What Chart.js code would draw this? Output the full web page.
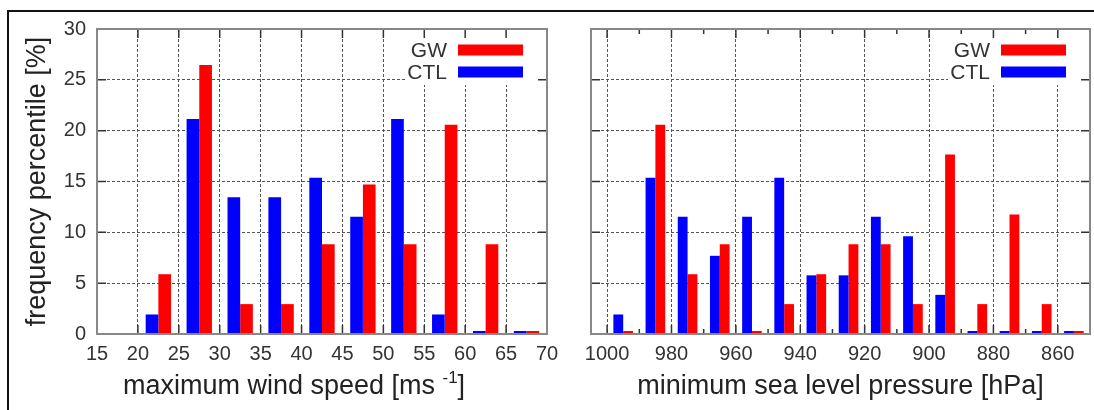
<!DOCTYPE html>
<html>
<head>
<meta charset="utf-8">
<script src="https://cdn.jsdelivr.net/npm/chart.js@4/dist/chart.umd.min.js"></script>
<style>
  html, body { margin: 0; padding: 0; background: #fff; }
  #wrap { position: relative; width: 1094px; height: 410px; overflow: hidden; }
  canvas { position: absolute; top: 0; }
  #left { left: 0; }
  #right { left: 560px; }
  #frame { position: absolute; left: 7px; top: 10px; width: 1200px; height: 600px;
           border-left: 2px solid #111; border-top: 2px solid #111; pointer-events: none; }
</style>
</head>
<body>
<div id="wrap">
  <canvas id="left" width="560" height="410"></canvas>
  <canvas id="right" width="534" height="410"></canvas>
  <div id="frame"></div>
</div>
<script>
// maximum wind speed: bin centres [m/s] and frequency [%]
const windBins = [22.5, 27.5, 32.5, 37.5, 42.5, 47.5, 52.5, 57.5, 62.5, 67.5];
const windCTL = [1.92, 21.15, 13.46, 13.46, 15.38, 11.54, 21.15, 1.92, 0, 0];
const windGW = [5.88, 26.47, 2.94, 2.94, 8.82, 14.71, 8.82, 20.59, 8.82, 0];

// minimum sea level pressure: bin centres [hPa] and frequency [%]
const pressBins = [995, 985, 975, 965, 955, 945, 935, 925, 915, 905, 895, 885, 875, 865, 855];
const pressCTL = [1.92, 15.38, 11.54, 7.69, 11.54, 15.38, 5.77, 5.77, 11.54, 9.62, 3.85, 0, 0, 0, 0];
const pressGW = [0, 20.59, 5.88, 8.82, 0, 2.94, 5.88, 8.82, 8.82, 2.94, 17.65, 2.94, 11.76, 2.94, 0];

const pressTicks = [1000, 980, 960, 940, 920, 900, 880, 860];
const pressMinorTicks = [990, 970, 950, 930, 910, 890, 870];

const FONT = '"Liberation Sans", Arial, sans-serif';
Chart.defaults.font.family = FONT;

// gnuplot look: inward tick marks, grey border, key box, x label with superscript
const gnuplotFrame = {
    id: 'gnuplotFrame',
    beforeDatasetsDraw(chart) {
        const a = chart.chartArea;
        const ctx = chart.ctx;
        ctx.save();
        ctx.fillStyle = '#fff';
        ctx.fillRect(a.right - 142, a.top, 142, 56);
        ctx.restore();
    },
    afterDatasetsDraw(chart, args, opts) {
        const a = chart.chartArea;
        const ctx = chart.ctx;
        const xs = chart.scales.x;
        const ys = chart.scales.y;
        ctx.save();
        ctx.strokeStyle = '#333';
        ctx.lineWidth = 1.5;
        ctx.beginPath();
        xs.ticks.forEach(t => {
            const px = xs.getPixelForValue(t.value);
            ctx.moveTo(px, a.bottom); ctx.lineTo(px, a.bottom - 9);
            ctx.moveTo(px, a.top); ctx.lineTo(px, a.top + 9);
        });
        (opts.minor || []).forEach(v => {
            const px = xs.getPixelForValue(v);
            ctx.moveTo(px, a.bottom); ctx.lineTo(px, a.bottom - 5);
            ctx.moveTo(px, a.top); ctx.lineTo(px, a.top + 5);
        });
        ys.ticks.forEach(t => {
            const py = ys.getPixelForValue(t.value);
            ctx.moveTo(a.left, py); ctx.lineTo(a.left + 9, py);
            ctx.moveTo(a.right, py); ctx.lineTo(a.right - 9, py);
        });
        ctx.stroke();

        ctx.strokeStyle = '#888';
        ctx.lineWidth = 2;
        ctx.strokeRect(a.left, a.top, a.right - a.left, a.bottom - a.top);

        // key
        ctx.font = '21px ' + FONT;
        ctx.textAlign = 'right';
        ctx.textBaseline = 'middle';
        chart.data.datasets.slice().reverse().forEach((d, i) => {
            const cy = a.top + 21 + i * 22;
            ctx.fillStyle = '#333';
            ctx.fillText(d.label, a.right - 100, cy + 1);
            ctx.fillStyle = d.backgroundColor;
            ctx.fillRect(a.right - 89, cy - 5.5, 65, 11);
        });

        // x axis label
        const t = opts.title;
        ctx.fillStyle = '#222';
        ctx.textAlign = 'left';
        ctx.textBaseline = 'alphabetic';
        const big = '27px ' + FONT, small = '17px ' + FONT;
        ctx.font = big;
        const w1 = ctx.measureText(t.text).width;
        const w3 = ctx.measureText(t.end).width;
        ctx.font = small;
        const w2 = t.sup ? ctx.measureText(t.sup).width : 0;
        let x = (a.left + a.right) / 2 + t.shift - (w1 + w2 + w3) / 2;
        const y = 394;
        ctx.font = big;
        ctx.fillText(t.text, x, y);
        x += w1;
        if (t.sup) {
            ctx.font = small;
            ctx.fillText(t.sup, x, y - 11);
            x += w2;
            ctx.font = big;
        }
        ctx.fillText(t.end, x, y);
        ctx.restore();
    }
};

function makeDatasets(bins, ctl, gw) {
    return [
        { label: 'CTL', data: bins.map((x, i) => ({ x, y: ctl[i] })), backgroundColor: '#0000ff' },
        { label: 'GW', data: bins.map((x, i) => ({ x, y: gw[i] })), backgroundColor: '#ff0000' },
    ];
}

const gridOpts = { color: '#555', lineWidth: 1, drawTicks: false, offset: false };
const borderOpts = { display: false, dash: [3, 2] };
const tickFont = { size: 20 };
const plainNumber = (v) => String(v);

function fitX(s) {
    s.height = 76;
    s.paddingLeft = 0;
    s.paddingRight = 0;
}

function fitY(width) {
    return (s) => {
        s.width = width;
        s.paddingTop = 0;
        s.paddingBottom = 0;
    };
}

new Chart(document.getElementById('left'), {
    type: 'bar',
    data: { datasets: makeDatasets(windBins, windCTL, windGW) },
    plugins: [gnuplotFrame],
    options: {
        responsive: false,
        animation: false,
        layout: { padding: { top: 29, right: 13, left: 0, bottom: 0 } },
        datasets: { bar: { categoryPercentage: 0.62, barPercentage: 1, minBarLength: 3, borderWidth: 0 } },
        plugins: {
            legend: { display: false },
            tooltip: { enabled: false },
            gnuplotFrame: { title: { text: 'maximum wind speed [ms ', sup: '-1', end: ']', shift: -28 } },
        },
        scales: {
            x: {
                type: 'linear', min: 15, max: 70, offset: false,
                ticks: { stepSize: 5, font: tickFont, color: '#333', padding: 8, maxRotation: 0, callback: plainNumber },
                grid: gridOpts, border: borderOpts,
                afterFit: fitX,
            },
            y: {
                min: 0, max: 30,
                ticks: { stepSize: 5, font: tickFont, color: '#333', padding: 11 },
                grid: gridOpts, border: borderOpts,
                title: { display: true, text: 'frequency percentile [%]', color: '#222',
                         font: { size: 27, lineHeight: 1 }, padding: { top: 24, bottom: 0 } },
                afterFit: fitY(97),
            },
        },
    },
});

new Chart(document.getElementById('right'), {
    type: 'bar',
    data: { datasets: makeDatasets(pressBins, pressCTL, pressGW) },
    plugins: [gnuplotFrame],
    options: {
        responsive: false,
        animation: false,
        layout: { padding: { top: 29, right: 4, left: 0, bottom: 0 } },
        datasets: { bar: { categoryPercentage: 0.61, barPercentage: 1, minBarLength: 3, borderWidth: 0 } },
        plugins: {
            legend: { display: false },
            tooltip: { enabled: false },
            gnuplotFrame: {
                minor: pressMinorTicks,
                title: { text: 'minimum sea level pressure [hPa', sup: '', end: ']', shift: 0 },
            },
        },
        scales: {
            x: {
                type: 'linear', min: 850, max: 1005, reverse: true, offset: false,
                afterBuildTicks: (s) => { s.ticks = pressTicks.map(v => ({ value: v })); },
                ticks: { font: tickFont, color: '#333', padding: 8, maxRotation: 0, callback: plainNumber },
                grid: gridOpts, border: borderOpts,
                afterFit: fitX,
            },
            y: {
                min: 0, max: 30,
                ticks: { stepSize: 5, display: false },
                grid: gridOpts, border: borderOpts,
                afterFit: fitY(31),
            },
        },
    },
});
</script>
</body>
</html>
